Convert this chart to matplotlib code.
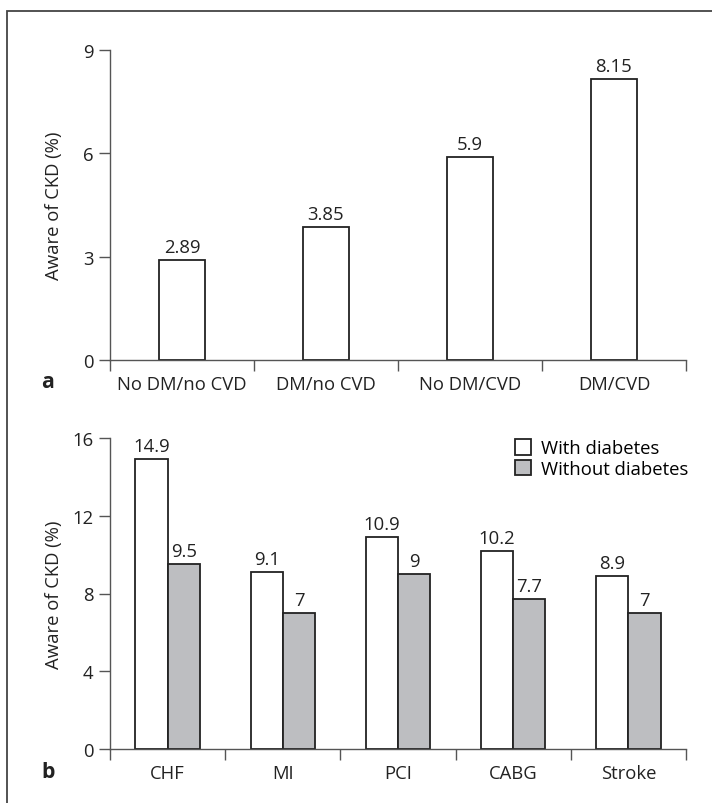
import matplotlib
matplotlib.use('Agg')
import matplotlib.pyplot as plt
from matplotlib.patches import Rectangle
import numpy as np

plt.rcParams['font.family'] = ['Open Sans', 'DejaVu Sans']

# panel a
groups_a = ['No DM/no CVD', 'DM/no CVD', 'No DM/CVD', 'DM/CVD']
aware_a = [2.89, 3.85, 5.9, 8.15]
labels_a = ['2.89', '3.85', '5.9', '8.15']

# panel b
groups_b = ['CHF', 'MI', 'PCI', 'CABG', 'Stroke']
with_dm = [14.9, 9.1, 10.9, 10.2, 8.9]
without_dm = [9.5, 7.0, 9.0, 7.7, 7.0]
labels_with = ['14.9', '9.1', '10.9', '10.2', '8.9']
labels_without = ['9.5', '7', '9', '7.7', '7']

axis_col = '#555555'
edge_col = '#222222'
txt_col = '#222222'
gray = '#bdbec1'
fs = 13.3

fig = plt.figure(figsize=(7.12, 8.04), dpi=100)

# outer frame (only top/left visible in the crop)
fig.patches.append(Rectangle((7 / 712, -0.5), 2, 1.5 - 12 / 804,
                             transform=fig.transFigure, fill=False,
                             edgecolor='#444444', linewidth=1.3))


def style_axis(ax, n, ymax, step):
    ax.set_xlim(-0.5, n - 0.5)
    ax.set_ylim(0, ymax)
    ax.set_yticks(np.arange(0, ymax + 0.1, step))
    ax.set_xticks(np.arange(n))
    ax.set_xticks(np.arange(n + 1) - 0.5, minor=True)
    for s in ['top', 'right']:
        ax.spines[s].set_visible(False)
    for s in ['left', 'bottom']:
        ax.spines[s].set_color(axis_col)
        ax.spines[s].set_linewidth(1.0)
    ax.tick_params(axis='x', which='major', length=0, pad=11, labelsize=fs, colors=txt_col)
    ax.tick_params(axis='x', which='minor', length=8, width=1.0, color=axis_col)
    ax.tick_params(axis='y', length=8, width=1.0, color=axis_col, labelsize=fs,
                   labelcolor=txt_col, pad=4)
    ax.set_ylabel('Aware of CKD (%)', fontsize=fs, color=txt_col)
    ax.yaxis.set_label_coords(-0.082, 0.5)


def put_labels(ax, xs, vals, texts):
    for xi, v, t in zip(xs, vals, texts):
        ax.annotate(t, (xi, v), xytext=(0, 3), textcoords='offset points',
                    ha='center', va='bottom', fontsize=fs, color=txt_col)


# panel a
ax1 = fig.add_axes([110 / 712, 1 - 361 / 804, 576 / 712, 310 / 804])
x_a = np.arange(len(groups_a))
ax1.bar(x_a, aware_a, width=0.32, color='white', edgecolor=edge_col, linewidth=1.3)
put_labels(ax1, x_a, aware_a, labels_a)
style_axis(ax1, len(groups_a), 9, 3)
ax1.set_xticklabels(groups_a)
fig.text(48 / 712, 1 - 383 / 804, 'a', fontsize=fs + 2, fontweight='bold',
         ha='center', va='center', color=txt_col)

# panel b
ax2 = fig.add_axes([110 / 712, 1 - 750 / 804, 576 / 712, 311 / 804])
x_b = np.arange(len(groups_b))
w = 0.28
ax2.bar(x_b - w / 2, with_dm, width=w, color='white', edgecolor=edge_col,
        linewidth=1.3, label='With diabetes')
ax2.bar(x_b + w / 2, without_dm, width=w, color=gray, edgecolor=edge_col,
        linewidth=1.3, label='Without diabetes')
put_labels(ax2, x_b - w / 2, with_dm, labels_with)
put_labels(ax2, x_b + w / 2, without_dm, labels_without)
style_axis(ax2, len(groups_b), 16, 4)
ax2.set_xticklabels(groups_b)
ax2.legend(loc='upper left', bbox_to_anchor=(0.69, 1.02), frameon=False,
           fontsize=fs, handlelength=0.9, handleheight=0.9, handletextpad=0.5,
           labelspacing=0.15, borderaxespad=0)
fig.text(48 / 712, 1 - 773 / 804, 'b', fontsize=fs + 2, fontweight='bold',
         ha='center', va='center', color=txt_col)

fig.savefig('out.png', dpi=100, facecolor='white')
